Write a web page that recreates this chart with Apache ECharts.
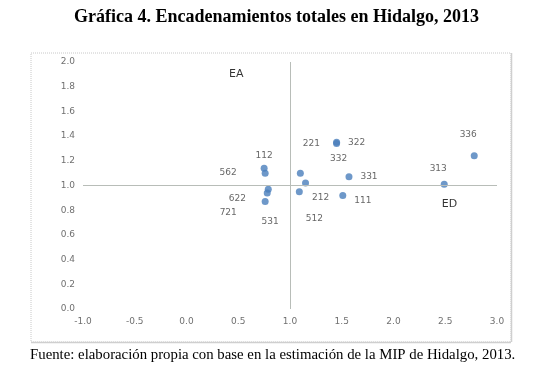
<!DOCTYPE html>
<html>
<head>
<meta charset="utf-8">
<script src="https://cdn.jsdelivr.net/npm/echarts@6/dist/echarts.min.js"></script>
<style>
html,body{margin:0;padding:0;background:#fff;}
#chart{width:553px;height:373px;}
</style>
</head>
<body>
<div id="chart"></div>
<script>
// Data
var sectors = ['112','562','622','721','531','221','212','512','331','111','322','332','313','336'];
var xValues = [0.75, 0.76, 0.79, 0.78, 0.76, 1.10, 1.15, 1.09, 1.57, 1.51, 1.45, 1.45, 2.49, 2.78];
var yValues = [1.14, 1.10, 0.97, 0.94, 0.87, 1.10, 1.02, 0.95, 1.07, 0.92, 1.35, 1.34, 1.01, 1.24];
var quadrantNames = ['EA', 'ED'];
var quadrantX = [0.48, 2.54];
var quadrantY = [1.90, 0.85];
var titleText = 'Gráfica 4. Encadenamientos totales en Hidalgo, 2013';
var sourceText = 'Fuente: elaboración propia con base en la estimación de la MIP de Hidalgo, 2013.';

// label offsets (style only)
var labelOffsets = [[0,-13],[-37,0],[-31,9],[-39,20],[5,20],[11,-29],[15,15],[15,27],[20,0],[20,5],[20,0],[2,15],[-6,-16],[-6,-21]];

var pts = sectors.map(function(s, i){
  return {
    value: [xValues[i], yValues[i]],
    name: s,
    label: {offset: labelOffsets[i]}
  };
});
var qpts = quadrantNames.map(function(s, i){
  return {value: [quadrantX[i], quadrantY[i]], name: s};
});

var chart = echarts.init(document.getElementById('chart'));
chart.setOption({
  backgroundColor: '#fff',
  animation: false,
  title: {
    text: titleText,
    left: 'center',
    top: 3,
    textStyle: {fontFamily: 'Liberation Serif', fontWeight: 'bold', fontSize: 18, color: '#000'}
  },
  graphic: [
    {type: 'rect', shape: {x: 31, y: 53, width: 480, height: 289}, style: {fill: 'none', stroke: '#c8c8c8', lineWidth: 1, lineDash: [1, 1]}, silent: true},
    {type: 'line', shape: {x1: 511.5, y1: 53, x2: 511.5, y2: 342}, style: {stroke: '#cfcfcf', lineWidth: 1.5}, silent: true},
    {type: 'line', shape: {x1: 31, y1: 342.5, x2: 511, y2: 342.5}, style: {stroke: '#cfcfcf', lineWidth: 1.5}, silent: true},
    {type: 'text', left: 30, top: 348, style: {text: sourceText, font: '14.8px "Liberation Serif"', fill: '#000'}}
  ],
  grid: {left: 83, right: 56, top: 62, bottom: 64},
  xAxis: {
    type: 'value', min: -1, max: 3, interval: 0.5,
    axisLine: {show: false}, axisTick: {show: false}, splitLine: {show: false},
    axisLabel: {margin: 8, fontSize: 9, color: '#707070', fontFamily: 'DejaVu Sans', formatter: function(v){return v.toFixed(1);}}
  },
  yAxis: {
    type: 'value', min: 0, max: 2, interval: 0.2,
    axisLine: {show: false}, axisTick: {show: false}, splitLine: {show: false},
    axisLabel: {margin: 8, fontSize: 9, color: '#707070', fontFamily: 'DejaVu Sans', formatter: function(v){return v.toFixed(1);}}
  },
  series: [
    {
      type: 'scatter',
      symbolSize: 7,
      itemStyle: {color: '#4a7ebb'},
      data: pts,
      label: {show: true, position: 'inside', formatter: '{b}', fontSize: 9, color: '#404040', fontFamily: 'DejaVu Sans'},
      markLine: {
        silent: true, symbol: 'none', animation: false,
        lineStyle: {color: '#b8bdb8', type: 'solid', width: 1},
        label: {show: false},
        data: [{xAxis: 1}, {yAxis: 1}]
      },
      z: 3
    },
    {
      type: 'scatter',
      symbolSize: 0,
      data: qpts,
      label: {show: true, position: 'inside', formatter: '{b}', fontSize: 11, color: '#000', fontFamily: 'DejaVu Sans'},
      z: 4
    }
  ]
});
</script>
</body>
</html>
